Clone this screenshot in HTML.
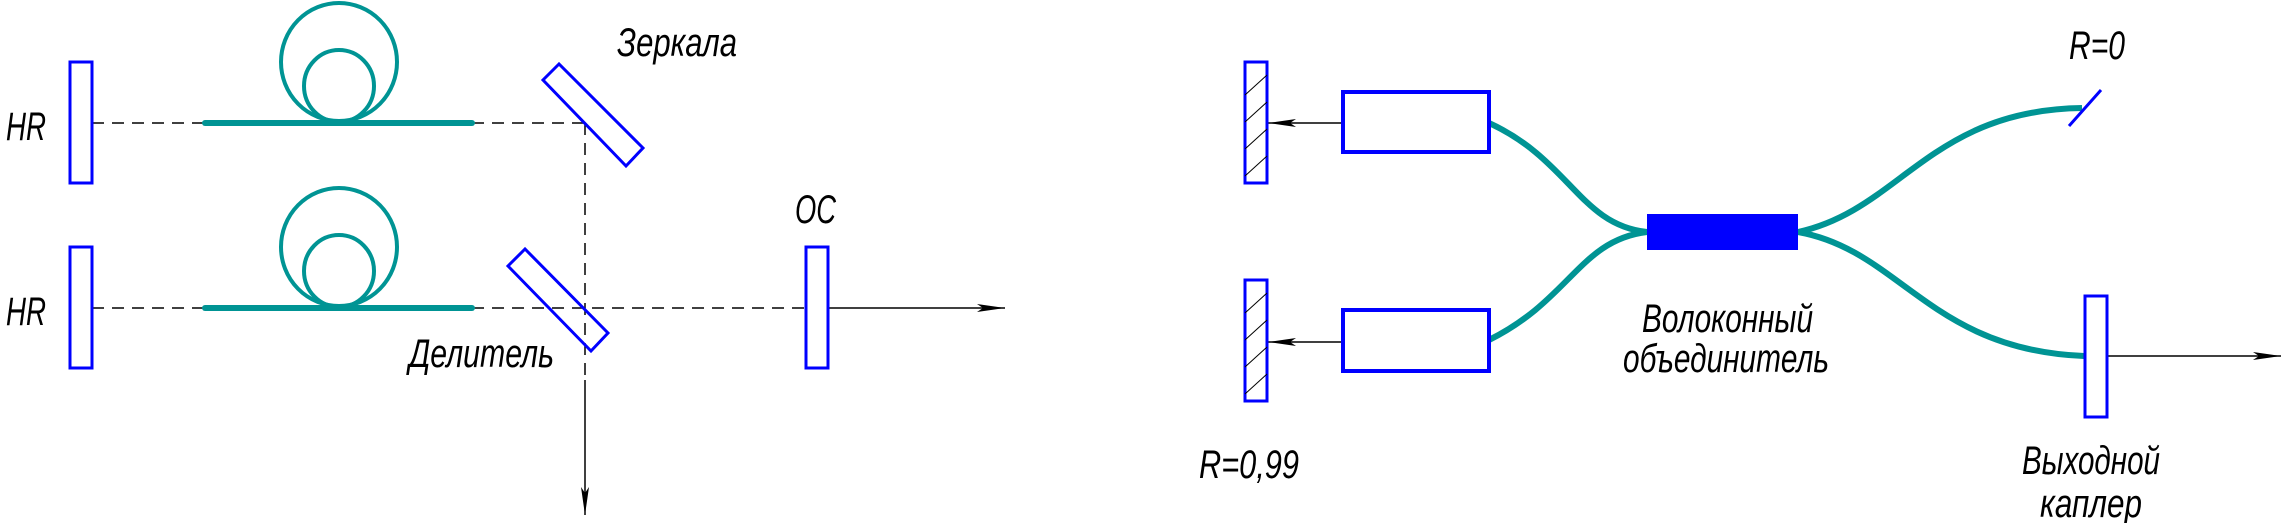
<!DOCTYPE html>
<html><head><meta charset="utf-8"><style>html,body{margin:0;padding:0;background:#fff}svg{display:block}</style></head><body>
<svg width="2285" height="523" viewBox="0 0 2285 523" xmlns="http://www.w3.org/2000/svg">
<defs>
<marker id="ar" markerWidth="30" markerHeight="10" refX="28" refY="5" orient="auto" markerUnits="userSpaceOnUse"><path d="M0,1 L28,5 L0,9 L6,5 Z" fill="#000"/></marker>
</defs>
<g font-family="Liberation Sans, sans-serif" font-style="italic" font-size="40" fill="#000">
<text x="6" y="140" textLength="40" lengthAdjust="spacingAndGlyphs">HR</text>
<text x="6" y="325" textLength="40" lengthAdjust="spacingAndGlyphs">HR</text>
<text x="617" y="56" textLength="120" lengthAdjust="spacingAndGlyphs">Зеркала</text>
<text x="795" y="223" textLength="41" lengthAdjust="spacingAndGlyphs">ОС</text>
<text x="409" y="367" textLength="145" lengthAdjust="spacingAndGlyphs">Делитель</text>
<text x="2069" y="59" textLength="56" lengthAdjust="spacingAndGlyphs">R=0</text>
<text x="1642" y="332" textLength="171" lengthAdjust="spacingAndGlyphs">Волоконный</text>
<text x="1623" y="372" textLength="206" lengthAdjust="spacingAndGlyphs">объединитель</text>
<text x="1199" y="478" textLength="100" lengthAdjust="spacingAndGlyphs">R=0,99</text>
<text x="2022" y="474" textLength="138" lengthAdjust="spacingAndGlyphs">Выходной</text>
<text x="2040" y="517" textLength="102" lengthAdjust="spacingAndGlyphs">каплер</text>
</g>
<!-- left dashed beams -->
<g stroke="#000" stroke-width="1.5" fill="none" stroke-dasharray="12,8">
<line x1="92" y1="123" x2="585" y2="123"/>
<line x1="92" y1="308" x2="804" y2="308"/>
<line x1="585" y1="123" x2="585" y2="380"/>
</g>
<g stroke="#000" stroke-width="1.5" fill="none">
<line x1="585" y1="380" x2="585" y2="515" marker-end="url(#ar)"/>
<line x1="829" y1="308" x2="1005" y2="308" marker-end="url(#ar)"/>
<line x1="1341" y1="123" x2="1268" y2="123" marker-end="url(#ar)"/>
<line x1="1341" y1="342" x2="1268" y2="342" marker-end="url(#ar)"/>
<line x1="2108" y1="356" x2="2281" y2="356" marker-end="url(#ar)"/>
</g>
<!-- fibers left -->
<g stroke="#009494" fill="none">
<line x1="205" y1="123" x2="472" y2="123" stroke-width="6" stroke-linecap="round"/>
<line x1="205" y1="308" x2="472" y2="308" stroke-width="6" stroke-linecap="round"/>
<ellipse cx="339" cy="62" rx="58" ry="59" stroke-width="4"/>
<ellipse cx="339" cy="86" rx="35" ry="36" stroke-width="4"/>
<ellipse cx="339" cy="247" rx="58" ry="59" stroke-width="4"/>
<ellipse cx="339" cy="271" rx="35" ry="36" stroke-width="4"/>
<path d="M1489,123 C1570,160 1580,225 1647,232" stroke-width="6"/>
<path d="M1489,340 C1570,300 1580,240 1647,232" stroke-width="6"/>
<path d="M1798,232 C1900,210 1930,110 2082,108" stroke-width="6"/>
<path d="M1798,232 C1900,250 1930,350 2084,356" stroke-width="6"/>
</g>
<!-- blue components -->
<g stroke="#0000ff" stroke-width="3" fill="none">
<rect x="70" y="62" width="22" height="121"/>
<rect x="70" y="247" width="22" height="121"/>
<rect x="806" y="247" width="22" height="121"/>
<polygon points="559,64 543,80 626,166 643,148"/>
<polygon points="525,249 508,266 591,351 608,333"/>
<rect x="1245" y="62" width="22" height="121"/>
<rect x="1245" y="280" width="22" height="121"/>
<rect x="1343" y="92" width="146" height="60" stroke-width="4"/>
<rect x="1343" y="310" width="146" height="61" stroke-width="4"/>
<rect x="2085" y="296" width="22" height="121"/>
<line x1="2101" y1="90" x2="2069" y2="126" stroke-width="3"/>
</g>
<rect x="1647" y="214" width="151" height="36" fill="#0000ff"/>
<g stroke="#000" stroke-width="1">
<line x1="1245" y1="95" x2="1267" y2="75"/><line x1="1245" y1="122" x2="1267" y2="102"/><line x1="1245" y1="149" x2="1267" y2="129"/><line x1="1245" y1="176" x2="1267" y2="156"/>
<line x1="1245" y1="313" x2="1267" y2="293"/><line x1="1245" y1="340" x2="1267" y2="320"/><line x1="1245" y1="367" x2="1267" y2="347"/><line x1="1245" y1="394" x2="1267" y2="374"/>
</g>
</svg>
</body></html>
